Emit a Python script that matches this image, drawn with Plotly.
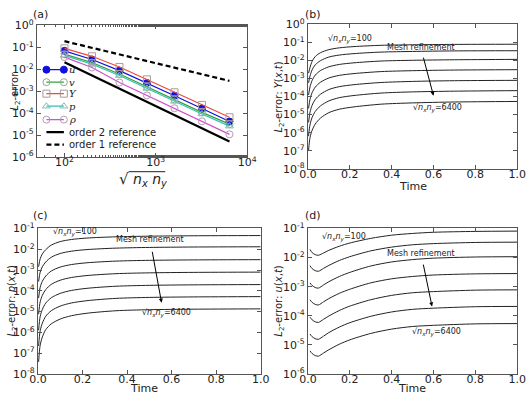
import numpy as np
import plotly.graph_objects as go

# ---------------- data ----------------
# panel (a): convergence
n_mesh = [100, 200, 400, 800, 1600, 3200, 6400]
err_u = [0.069, 0.028, 0.0087, 0.0024, 6.3e-4, 1.66e-4, 4.2e-5]
err_v = [0.049, 0.020, 6.1e-3, 1.6e-3, 4.2e-4, 1.1e-4, 3.2e-5]
err_Y = [0.090, 0.039, 0.0128, 3.5e-3, 9.0e-4, 2.4e-4, 6.6e-5]
err_p = [0.043, 0.017, 5.2e-3, 1.35e-3, 3.5e-4, 9.3e-5, 2.6e-5]
err_rho = [0.036, 0.012, 2.5e-3, 6.5e-4, 1.7e-4, 4.3e-5, 1.1e-5]
ref_n = [100, 6400]
ref_order2 = [0.021, 5.2e-6]
ref_order1 = [0.19, 2.97e-3]

mesh_labels = ["100", "200", "400", "800", "1600", "3200", "6400"]

# panels (b),(c): time grid and log10 of error
t_bc = [0.003, 0.01, 0.02, 0.035, 0.06, 0.1, 0.15, 0.22, 0.35, 0.5, 0.7, 1.0]
b_100 = [-2.70, -2.38, -2.05, -1.78, -1.57, -1.40, -1.30, -1.23, -1.16, -1.13, -1.11, -1.10]
b_200 = [-3.24, -2.86, -2.52, -2.24, -2.01, -1.81, -1.70, -1.62, -1.535, -1.50, -1.47, -1.46]
b_400 = [-3.91, -3.46, -3.11, -2.81, -2.56, -2.35, -2.22, -2.13, -2.03, -1.99, -1.96, -1.94]
b_800 = [-4.66, -4.15, -3.785, -3.475, -3.205, -2.97, -2.825, -2.725, -2.615, -2.565, -2.53, -2.51]
b_1600 = [-5.43, -4.86, -4.48, -4.16, -3.87, -3.61, -3.45, -3.34, -3.22, -3.16, -3.12, -3.10]
b_3200 = [-6.19, -5.55, -5.16, -4.825, -4.515, -4.24, -4.06, -3.94, -3.805, -3.74, -3.70, -3.67]
b_6400 = [-6.97, -6.27, -5.87, -5.52, -5.19, -4.89, -4.70, -4.57, -4.42, -4.35, -4.30, -4.27]

c_100 = [-2.84, -2.46, -2.22, -2.02, -1.80, -1.63, -1.53, -1.46, -1.40, -1.37, -1.35, -1.34]
c_200 = [-3.555, -3.105, -2.838, -2.613, -2.383, -2.203, -2.093, -2.015, -1.945, -1.912, -1.891, -1.88]
c_400 = [-4.35, -3.83, -3.537, -3.287, -3.047, -2.857, -2.737, -2.65, -2.57, -2.533, -2.512, -2.50]
c_800 = [-5.125, -4.535, -4.215, -3.94, -3.69, -3.49, -3.36, -3.265, -3.175, -3.135, -3.1125, -3.10]
c_1600 = [-5.90, -5.24, -4.893, -4.593, -4.333, -4.123, -3.983, -3.88, -3.78, -3.737, -3.713, -3.70]
c_3200 = [-6.655, -5.925, -5.552, -5.227, -4.957, -4.737, -4.587, -4.475, -4.365, -4.318, -4.294, -4.28]
c_6400 = [-7.42, -6.62, -6.22, -5.87, -5.59, -5.36, -5.20, -5.08, -4.96, -4.91, -4.885, -4.87]

# panel (d)
t_d = [0.01, 0.02, 0.035, 0.05, 0.075, 0.1, 0.15, 0.2, 0.3, 0.4, 0.5, 0.6, 0.8, 1.0]
d_100 = [-1.72, -1.83, -1.90, -1.92, -1.84, -1.75, -1.61, -1.50, -1.34, -1.23, -1.17, -1.13, -1.10, -1.09]
d_200 = [-2.28, -2.38, -2.45, -2.47, -2.37, -2.27, -2.10, -1.97, -1.77, -1.64, -1.56, -1.52, -1.48, -1.47]
d_400 = [-2.87, -2.96, -3.03, -3.05, -2.94, -2.83, -2.65, -2.51, -2.29, -2.15, -2.07, -2.02, -1.98, -1.97]
d_800 = [-3.45, -3.54, -3.61, -3.63, -3.52, -3.41, -3.23, -3.09, -2.87, -2.73, -2.65, -2.60, -2.56, -2.55]
d_1600 = [-4.05, -4.14, -4.21, -4.23, -4.12, -4.01, -3.82, -3.67, -3.45, -3.30, -3.21, -3.17, -3.12, -3.11]
d_3200 = [-4.63, -4.72, -4.79, -4.81, -4.70, -4.58, -4.39, -4.24, -4.02, -3.87, -3.78, -3.74, -3.69, -3.68]
d_6400 = [-5.21, -5.30, -5.37, -5.39, -5.28, -5.17, -4.98, -4.83, -4.61, -4.46, -4.37, -4.33, -4.28, -4.27]

b_curves = [b_100, b_200, b_400, b_800, b_1600, b_3200, b_6400]
c_curves = [c_100, c_200, c_400, c_800, c_1600, c_3200, c_6400]
d_curves = [d_100, d_200, d_400, d_800, d_1600, d_3200, d_6400]

# ---------------- figure ----------------
W, H = 532, 404
FONT = "DejaVu Sans"
AX = "#555555"

def px(xp):
    return xp / W

def py(yp):
    return 1 - yp / H

dom = {
    "a": ([px(29), px(247)], [py(155), py(18)]),
    "b": ([px(310), px(527)], [py(167), py(17)]),
    "c": ([px(30), px(261)], [py(380), py(229)]),
    "d": ([px(310), px(527)], [py(380), py(229)]),
}

fig = go.Figure()

# panel (a) series
series = [
    ("u", err_u, "#1010e0", "circle", "#1010e0", "#1010e0"),
    ("v", err_v, "#38a040", "circle-open", None, "#8aae8a"),
    ("Y", err_Y, "#ee4a3e", "square-open", None, "#ab9a98"),
    ("p", err_p, "#30c0b0", "triangle-up-open", None, "#8abab4"),
    ("rho", err_rho, "#d050d0", "circle-open", None, "#b898b8"),
]
for name, vals, col, sym, fillc, edge in series:
    fig.add_trace(go.Scatter(
        x=n_mesh, y=vals, mode="lines+markers", name=name,
        line=dict(color=col, width=1.2),
        marker=dict(symbol=sym, size=7, color=fillc if fillc else edge,
                    line=dict(color=edge, width=1)),
        xaxis="x", yaxis="y", showlegend=False))
fig.add_trace(go.Scatter(x=ref_n, y=ref_order2, mode="lines",
                         line=dict(color="black", width=2.2),
                         xaxis="x", yaxis="y", showlegend=False))
fig.add_trace(go.Scatter(x=ref_n, y=ref_order1, mode="lines",
                         line=dict(color="black", width=2.2, dash="5px,3px"),
                         xaxis="x", yaxis="y", showlegend=False))

# legend keys for (a) on a hidden overlay axis
leg_rows = [0.664, 0.569, 0.482, 0.387, 0.285, 0.19, 0.095]
leg_x = [0.045, 0.128]
for i, (name, vals, col, sym, fillc, edge) in enumerate(series):
    fig.add_trace(go.Scatter(
        x=leg_x, y=[leg_rows[i]] * 2, mode="lines+markers",
        line=dict(color=col, width=1.2),
        marker=dict(symbol=sym, size=7, color=fillc if fillc else edge,
                    line=dict(color=edge, width=1)),
        xaxis="x5", yaxis="y5", showlegend=False, hoverinfo="skip"))
fig.add_trace(go.Scatter(x=leg_x, y=[leg_rows[5]] * 2, mode="lines",
                         line=dict(color="black", width=2.2),
                         xaxis="x5", yaxis="y5", showlegend=False, hoverinfo="skip"))
fig.add_trace(go.Scatter(x=leg_x, y=[leg_rows[6]] * 2, mode="lines",
                         line=dict(color="black", width=2.2, dash="5px,3px"),
                         xaxis="x5", yaxis="y5", showlegend=False, hoverinfo="skip"))
leg_text = ["<i>u</i>", "<i>v</i>", "<i>Y</i>", "<i>p</i>", "<i>ρ</i>",
            "order 2 reference", "order 1 reference"]
for i, txt in enumerate(leg_text):
    fig.add_annotation(x=0.142, y=leg_rows[i], xref="x5", yref="y5", text=txt,
                       showarrow=False, xanchor="left", yanchor="middle",
                       font=dict(family="DejaVu Serif" if i < 5 else FONT, size=10, color="#222"))

# time panels
for curves, tt, xa, ya in [(b_curves, t_bc, "x2", "y2"),
                            (c_curves, t_bc, "x3", "y3"),
                            (d_curves, t_d, "x4", "y4")]:
    for lab, cv in zip(mesh_labels, curves):
        fig.add_trace(go.Scatter(
            x=tt, y=[10 ** v for v in cv], mode="lines", name=lab,
            line=dict(color="#222222", width=1, shape="spline", smoothing=0.8),
            xaxis=xa, yaxis=ya, showlegend=False))

def logticks(lo, hi):
    vals = [10.0 ** k for k in range(lo, hi + 1)]
    txt = ["10<sup>%d</sup>" % k for k in range(lo, hi + 1)]
    return vals, txt

common = dict(showline=True, mirror="ticks", linecolor=AX, linewidth=1,
              ticks="inside", ticklen=4, tickcolor=AX, showgrid=False,
              zeroline=False, tickfont=dict(family=FONT, size=11, color="#222"))

xa_vals, xa_txt = logticks(2, 4)
fig.update_layout(
    xaxis=dict(domain=dom["a"][0], anchor="y", type="log",
               range=[np.log10(50), 4], tickvals=xa_vals, ticktext=xa_txt,
               ticklabelstandoff=-5,
               minor=dict(ticks="inside", ticklen=2, tickcolor=AX), **common),
    yaxis=dict(domain=dom["a"][1], anchor="x", type="log", range=[-6, 0],
               tickvals=logticks(-6, 0)[0], ticktext=logticks(-6, 0)[1], **common),
    xaxis5=dict(domain=dom["a"][0], anchor="y5", range=[0, 1], visible=False, overlaying="x"),
    yaxis5=dict(domain=dom["a"][1], anchor="x5", range=[0, 1], visible=False, overlaying="y"),
)

lin_ticks = dict(tickvals=[0, 0.2, 0.4, 0.6, 0.8, 1.0],
                 ticktext=["0.0", "0.2", "0.4", "0.6", "0.8", "1.0"],
                 ticklabelstandoff=-5)
fig.update_layout(
    xaxis2=dict(domain=dom["b"][0], anchor="y2", range=[0, 1], **lin_ticks, **common),
    yaxis2=dict(domain=dom["b"][1], anchor="x2", type="log", range=[-8, 0],
                tickvals=logticks(-8, 0)[0], ticktext=logticks(-8, 0)[1], **common),
    xaxis3=dict(domain=dom["c"][0], anchor="y3", range=[0, 1], **lin_ticks, **common),
    yaxis3=dict(domain=dom["c"][1], anchor="x3", type="log", range=[-8, -1],
                tickvals=logticks(-8, -1)[0], ticktext=logticks(-8, -1)[1], **common),
    xaxis4=dict(domain=dom["d"][0], anchor="y4", range=[0, 1], **lin_ticks, **common),
    yaxis4=dict(domain=dom["d"][1], anchor="x4", type="log", range=[-6, -1],
                tickvals=logticks(-6, -1)[0], ticktext=logticks(-6, -1)[1], **common),
)

# annotations: panel labels
for lbl, xp, yp in [("(a)", 23, 7), ("(b)", 305, 7), ("(c)", 23, 215), ("(d)", 305, 215)]:
    fig.add_annotation(x=px(xp), y=py(yp), xref="paper", yref="paper", text=lbl,
                       showarrow=False, xanchor="left", yanchor="middle",
                       font=dict(family=FONT, size=11, color="#222"))

# axis titles
ytit = [("<i>L</i><sub>2</sub>-error", 7, 86),
        ("<i>L</i><sub>2</sub>-error: <i>Y</i>(<i>x</i>,<i>t</i>)", 281, 92),
        ("<i>L</i><sub>2</sub>-error: <i>p</i>(<i>x</i>,<i>t</i>)", 4, 304),
        ("<i>L</i><sub>2</sub>-error: <i>u</i>(<i>x</i>,<i>t</i>)", 281, 304)]
for txt, xp, yp in ytit:
    fig.add_annotation(x=px(xp), y=py(yp), xref="paper", yref="paper", text=txt,
                       showarrow=False, textangle=-90, xanchor="center", yanchor="middle",
                       font=dict(family=FONT, size=10, color="#222"))

# x title of (a): sqrt sign + radicand with an overline
fig.add_annotation(x=px(126), y=py(178), xref="paper", yref="paper", text="√",
                   showarrow=False, xanchor="right", yanchor="middle",
                   font=dict(family=FONT, size=15, color="#222"))
fig.add_annotation(x=px(126), y=py(179), xref="paper", yref="paper",
                   text="<i>n<sub>x</sub> n<sub>y</sub></i>",
                   showarrow=False, xanchor="left", yanchor="middle",
                   font=dict(family=FONT, size=14, color="#222"))
fig.add_shape(type="line", xref="paper", yref="paper",
              x0=px(124), x1=px(162), y0=py(170), y1=py(170),
              line=dict(color="#222", width=1))

for xp, yp in [(419, 185), (140, 395), (418, 395)]:
    fig.add_annotation(x=px(xp), y=py(yp), xref="paper", yref="paper", text="Time",
                       showarrow=False, xanchor="center", yanchor="middle",
                       font=dict(family=FONT, size=11, color="#222"))

# in-panel annotations
lab100 = "√<i>n<sub>x</sub>n<sub>y</sub></i>=100"
lab6400 = "√<i>n<sub>x</sub>n<sub>y</sub></i>=6400"
panel_notes = [
    ("x2", "y2", 0.20, -0.85, 0.62, -4.64, 0.54, -1.26, (0.55, -1.76, 0.60, -3.95)),
    ("x3", "y3", 0.165, -1.2, 0.575, -5.08, 0.505, -1.54, (0.512, -2.05, 0.555, -4.57)),
    ("x4", "y4", 0.172, -1.31, 0.616, -4.58, 0.542, -1.86, (0.55, -2.19, 0.593, -3.68)),
]
for xa, ya, x1, y1, x2, y2, xm, ym, arr in panel_notes:
    fig.add_annotation(x=x1, y=y1, xref=xa, yref=ya, text=lab100, showarrow=False,
                       font=dict(family=FONT, size=8, color="#222"))
    fig.add_annotation(x=x2, y=y2, xref=xa, yref=ya, text=lab6400, showarrow=False,
                       font=dict(family=FONT, size=8, color="#222"))
    fig.add_annotation(x=xm, y=ym, xref=xa, yref=ya, text="Mesh refinement", showarrow=False,
                       font=dict(family=FONT, size=8, color="#222"))
    fig.add_annotation(x=arr[2], y=arr[3], ax=arr[0], ay=arr[1], xref=xa, yref=ya,
                       axref=xa, ayref=ya, text="", showarrow=True, arrowhead=2,
                       arrowsize=0.8, arrowwidth=1, arrowcolor="black")

fig.update_layout(width=W, height=H, margin=dict(l=0, r=0, t=0, b=0),
                  paper_bgcolor="white", plot_bgcolor="white", showlegend=False,
                  font=dict(family=FONT, color="#222"))

fig.write_html("out.html")
